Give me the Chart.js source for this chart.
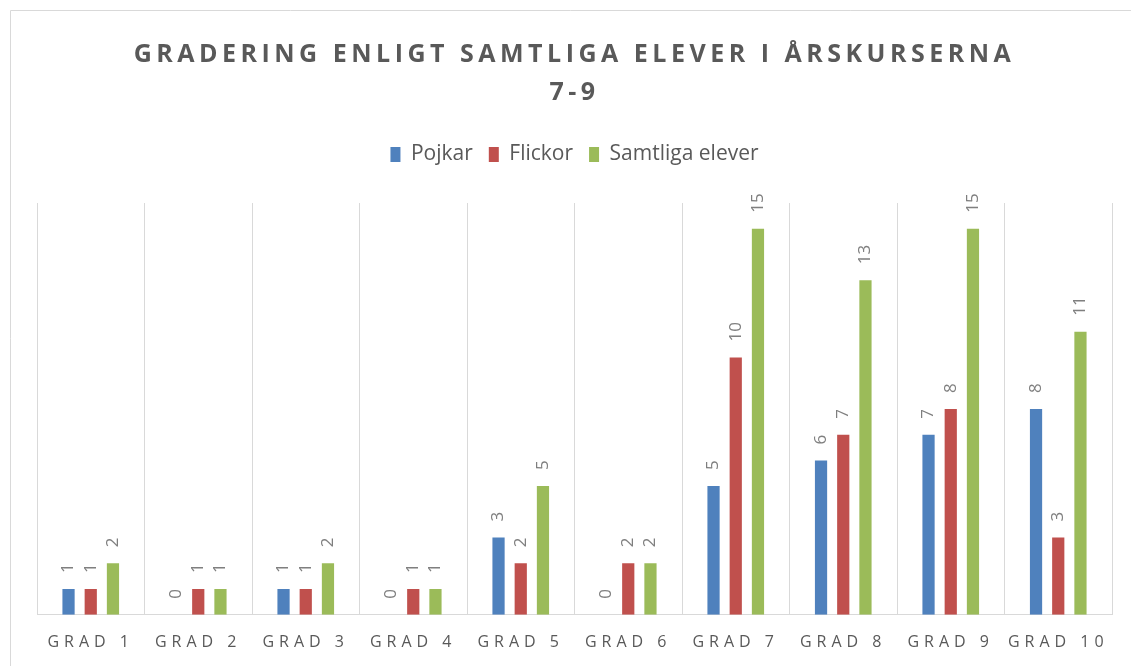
<!DOCTYPE html>
<html>
<head>
<meta charset="utf-8">
<script src="https://cdn.jsdelivr.net/npm/chart.js@4/dist/chart.umd.min.js"></script>
<style>
  html, body { margin: 0; padding: 0; background: #fff; }
  #wrap { position: relative; width: 1131px; height: 666px; }
</style>
</head>
<body>
<div id="wrap"><canvas id="chart"></canvas></div>
<script>
// chart data
const categories = ['GRAD 1', 'GRAD 2', 'GRAD 3', 'GRAD 4', 'GRAD 5', 'GRAD 6', 'GRAD 7', 'GRAD 8', 'GRAD 9', 'GRAD 10'];
const pojkar = [1, 0, 1, 0, 3, 0, 5, 6, 7, 8];
const flickor = [1, 1, 1, 1, 2, 2, 10, 7, 8, 3];
const samtliga = [2, 1, 2, 1, 5, 2, 15, 13, 15, 11];
const series_names = ['Pojkar', 'Flickor', 'Samtliga elever'];

const colors = { Pojkar: '#4f81bd', Flickor: '#c0504d', 'Samtliga elever': '#9bbb59' };
const text_color = '#595959';
const font_family = "'Open Sans', 'Liberation Sans', sans-serif";

// wraps a draw function so its text gets letter spacing
const with_spacing = (obj, name, spacing) => {
  const orig = obj[name];
  obj[name] = function (...args) {
    const { ctx } = this.chart ?? this;
    ctx.save();
    ctx.letterSpacing = spacing;
    orig.apply(this, args);
    ctx.restore();
  };
};

const spacing_plugin = {
  id: 'spacing',
  beforeLayout: (chart) => {
    if (chart._spacing_done) return;
    chart._spacing_done = true;
    // extra room below the legend
    const fit = chart.legend.fit;
    chart.legend.fit = function () {
      fit.call(this);
      this.height += 28;
    };
    with_spacing(chart.titleBlock, 'draw', '4.5px');
  },
  afterLayout: (chart) => {
    const x = chart.scales.x;
    if (x._spaced) return;
    x._spaced = true;
    with_spacing(x, 'drawLabels', '5px');
  }
};

const frame_plugin = {
  id: 'frame',
  beforeDraw: (chart) => {
    const { ctx } = chart;
    ctx.save();
    ctx.strokeStyle = '#d9d9d9';
    ctx.lineWidth = 1;
    ctx.beginPath();
    ctx.moveTo(10.5, chart.height);
    ctx.lineTo(10.5, 10.5);
    ctx.lineTo(chart.width, 10.5);
    ctx.stroke();
    ctx.restore();
  }
};

const value_labels = {
  id: 'value_labels',
  afterDatasetsDraw: (chart) => {
    const { ctx } = chart;
    ctx.save();
    ctx.font = `17px ${font_family}`;
    ctx.fillStyle = '#7f7f7f';
    ctx.textAlign = 'left';
    ctx.textBaseline = 'middle';
    chart.data.datasets.forEach((ds, i) => {
      const meta = chart.getDatasetMeta(i);
      meta.data.forEach((bar, j) => {
        ctx.save();
        ctx.translate(bar.x, bar.y - 16);
        ctx.rotate(-Math.PI / 2);
        ctx.fillText(String(ds.data[j]), 0, 0);
        ctx.restore();
      });
    });
    ctx.restore();
  }
};

const datasets = [pojkar, flickor, samtliga].map((values, i) => ({
  label: series_names[i],
  data: values,
  backgroundColor: colors[series_names[i]],
  barPercentage: 0.55,
  categoryPercentage: 0.62
}));

const ctx = document.getElementById('chart').getContext('2d');
const chart = new Chart(ctx, {
  type: 'bar',
  data: { labels: categories, datasets },
  plugins: [spacing_plugin, frame_plugin, value_labels],
  options: {
    responsive: true,
    maintainAspectRatio: false,
    animation: false,
    layout: {
      padding: { left: 37, right: 19, top: 0, bottom: -4 }
    },
    plugins: {
      title: {
        display: true,
        text: ['GRADERING ENLIGT SAMTLIGA ELEVER I ÅRSKURSERNA', '7-9'],
        color: text_color,
        font: { family: font_family, size: 25, weight: 'bold', lineHeight: 1.52 },
        padding: { top: 36, bottom: 16 }
      },
      legend: {
        display: true,
        position: 'top',
        labels: {
          color: text_color,
          font: { family: font_family, size: 21 },
          boxWidth: 10,
          boxHeight: 15,
          padding: 16
        }
      },
      tooltip: { enabled: false }
    },
    scales: {
      x: {
        grid: {
          display: true,
          color: '#d9d9d9',
          drawTicks: false,
          offset: true
        },
        border: { display: true, color: '#d9d9d9' },
        ticks: {
          color: text_color,
          font: { family: font_family, size: 16 },
          padding: 18,
          maxRotation: 0
        }
      },
      y: {
        display: false,
        min: 0,
        max: 16
      }
    }
  }
});
</script>
</body>
</html>
